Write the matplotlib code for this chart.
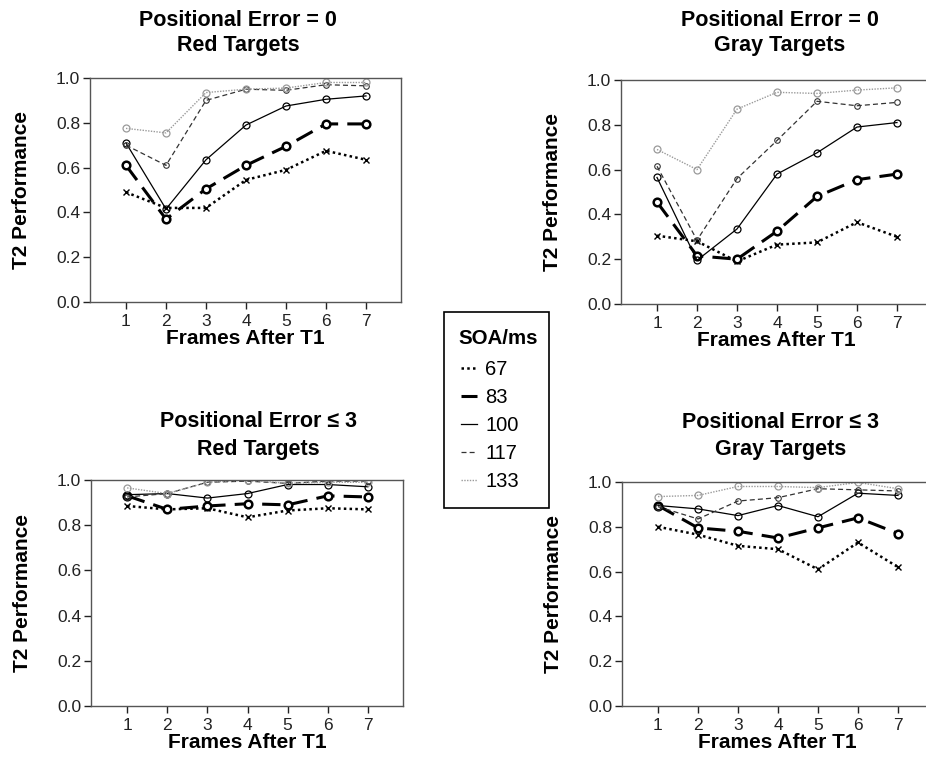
import matplotlib
matplotlib.use("Agg")
import matplotlib.pyplot as plt
from matplotlib.lines import Line2D
from matplotlib.patches import Rectangle

plt.rcParams['font.family'] = ['Liberation Sans', 'DejaVu Sans']

frames = [1, 2, 3, 4, 5, 6, 7]
soa_labels = ["67", "83", "100", "117", "133"]

# positional error = 0, red targets
pe0_red_67 = [0.49, 0.42, 0.42, 0.545, 0.59, 0.675, 0.635]
pe0_red_83 = [0.61, 0.37, 0.505, 0.61, 0.695, 0.795, 0.795]
pe0_red_100 = [0.71, 0.415, 0.635, 0.79, 0.875, 0.905, 0.92]
pe0_red_117 = [0.70, 0.61, 0.90, 0.95, 0.945, 0.97, 0.965]
pe0_red_133 = [0.775, 0.755, 0.935, 0.95, 0.955, 0.98, 0.98]

# positional error = 0, gray targets
pe0_gray_67 = [0.305, 0.28, 0.19, 0.265, 0.275, 0.365, 0.30]
pe0_gray_83 = [0.455, 0.215, 0.20, 0.325, 0.48, 0.555, 0.58]
pe0_gray_100 = [0.565, 0.195, 0.335, 0.58, 0.675, 0.79, 0.81]
pe0_gray_117 = [0.615, 0.285, 0.56, 0.73, 0.905, 0.885, 0.90]
pe0_gray_133 = [0.69, 0.60, 0.87, 0.945, 0.94, 0.955, 0.965]

# positional error <= 3, red targets
pe3_red_67 = [0.885, 0.87, 0.875, 0.835, 0.865, 0.875, 0.87]
pe3_red_83 = [0.93, 0.87, 0.885, 0.895, 0.89, 0.93, 0.925]
pe3_red_100 = [0.935, 0.94, 0.92, 0.94, 0.98, 0.98, 0.97]
pe3_red_117 = [0.925, 0.94, 0.99, 0.995, 0.985, 0.995, 0.995]
pe3_red_133 = [0.965, 0.94, 0.99, 1.0, 0.985, 0.99, 0.99]

# positional error <= 3, gray targets
pe3_gray_67 = [0.80, 0.765, 0.715, 0.70, 0.61, 0.73, 0.62]
pe3_gray_83 = [0.895, 0.795, 0.78, 0.75, 0.795, 0.84, 0.77]
pe3_gray_100 = [0.895, 0.88, 0.85, 0.895, 0.845, 0.95, 0.94]
pe3_gray_117 = [0.89, 0.835, 0.915, 0.93, 0.97, 0.965, 0.96]
pe3_gray_133 = [0.935, 0.94, 0.98, 0.98, 0.975, 0.998, 0.97]

styles = [
    dict(color='black', linestyle=(0, (1, 1.3)), linewidth=1.8, marker='x', markersize=4, markeredgewidth=1),
    dict(color='black', linestyle=(0, (6, 3)), linewidth=2.2, marker='o', markersize=5.5, markerfacecolor='white', markeredgewidth=1.8),
    dict(color='black', linestyle='-', linewidth=0.9, marker='o', markersize=5, markerfacecolor='none', markeredgewidth=0.9),
    dict(color='#333333', linestyle=(0, (4, 2.5)), linewidth=0.9, marker='o', markersize=4, markerfacecolor='none', markeredgewidth=0.8),
    dict(color='#9a9a9a', linestyle=(0, (1, 1)), linewidth=1.0, marker='o', markersize=5, markerfacecolor='none', markeredgewidth=0.9),
]

# title lines, axes box (px), title x, title line y's
panels = [
    (("Positional Error = 0", "Red Targets"), [90, 78, 401, 302], 238, (21, 46),
     [pe0_red_67, pe0_red_83, pe0_red_100, pe0_red_117, pe0_red_133]),
    (("Positional Error = 0", "Gray Targets"), [621, 80, 932, 304], 780, (21, 46),
     [pe0_gray_67, pe0_gray_83, pe0_gray_100, pe0_gray_117, pe0_gray_133]),
    (("Positional Error \u2264 3", "Red Targets"), [91, 480, 403, 706], 258, (421, 450),
     [pe3_red_67, pe3_red_83, pe3_red_100, pe3_red_117, pe3_red_133]),
    (("Positional Error \u2264 3", "Gray Targets"), [622, 482, 933, 706], 781, (423, 450),
     [pe3_gray_67, pe3_gray_83, pe3_gray_100, pe3_gray_117, pe3_gray_133]),
]

W, H = 926, 762
fig = plt.figure(figsize=(W / 100, H / 100), dpi=100)

for lines, (x0, y0, x1, y1), tx, tys, series in panels:
    ax = fig.add_axes([x0 / W, 1 - y1 / H, (x1 - x0) / W, (y1 - y0) / H])
    for vals, st in zip(series, styles):
        ax.plot(frames, vals, **st)
    ax.set_xlim(0.1, 7.875)
    ax.set_ylim(0, 1.0)
    ax.set_xticks(frames)
    ax.set_yticks([0.0, 0.2, 0.4, 0.6, 0.8, 1.0])
    ax.set_yticklabels(["0.0", "0.2", "0.4", "0.6", "0.8", "1.0"])
    ax.tick_params(direction='out', length=5, width=1, labelsize=12.5, colors='#222222', pad=2)
    ax.tick_params(axis='x', pad=4)
    for sp in ax.spines.values():
        sp.set_color('#555555')
        sp.set_linewidth(1)
    ax.set_xlabel("Frames After T1", fontsize=15, fontweight='bold', labelpad=0)
    ax.set_ylabel("T2 Performance", fontsize=15, fontweight='bold', labelpad=18)
    for line, ty in zip(lines, tys):
        fig.text(tx / W, 1 - ty / H, line, ha='center', va='center', fontsize=15.5,
                 fontweight='bold')

# legend: box + title + entries
fig.add_artist(Rectangle((444 / W, 1 - 508 / H), 105 / W, 196 / H, transform=fig.transFigure,
                         fill=False, edgecolor='black', linewidth=1.2))
fig.text(498 / W, 1 - 339 / H, "SOA/ms", ha='center', va='center', fontsize=14.8, fontweight='bold')
handles = [Line2D([], [], color=st['color'], linestyle=st['linestyle'], linewidth=st['linewidth'])
           for st in styles]
fig.legend(handles, soa_labels, loc='upper left', bbox_to_anchor=(461 / W, 1 - 360 / H),
           fontsize=14.5, handlelength=0.8, handletextpad=0.4, labelspacing=0.45,
           borderpad=0, borderaxespad=0, frameon=False)

fig.savefig("out.png", dpi=100)
